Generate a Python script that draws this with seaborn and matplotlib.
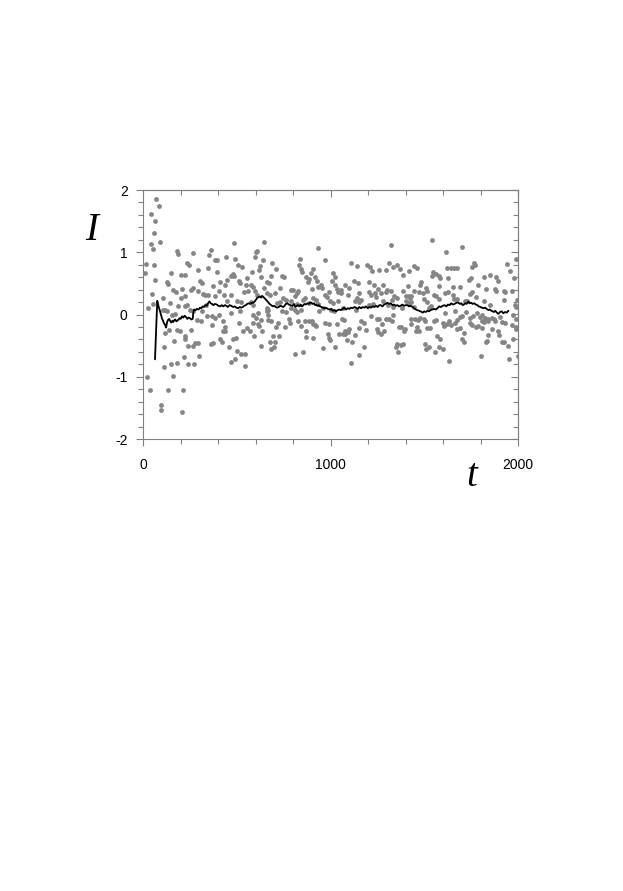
import matplotlib
matplotlib.use("Agg")
import matplotlib.pyplot as plt
import seaborn as sns

# scattered samples I(t)
t_pts = [69, 87, 41, 62, 60, 43, 91, 52, 14, 59, 9, 66, 48, 28, 55, 105, 180, 188, 268, 236,
         247, 361, 352, 382, 396, 148, 201, 226, 293, 348, 396, 130, 133, 162, 174, 208, 226, 254, 265, 292,
         304, 315, 318, 332, 347, 372, 404, 386, 108, 117, 144, 126, 153, 171, 201, 188, 224, 233, 251, 268,
         313, 286, 308, 336, 340, 366, 384, 366, 140, 117, 183, 197, 222, 226, 258, 167, 112, 242, 265, 277,
         293, 361, 372, 411, 299, 217, 148, 180, 238, 272, 114, 158, 20, 37, 133, 215, 98, 94, 210,
         484, 645, 443, 489, 596, 603, 606, 640, 688, 507, 528, 624, 620, 711, 581, 478, 471, 485, 556, 450,
         510, 517, 628, 684, 741, 750, 411, 436, 549, 578, 588, 645, 660, 670, 729, 788, 798, 471, 432, 539,
         560, 599, 606, 660, 677, 706, 747, 764, 788, 812, 820, 450, 500, 524, 574, 588, 660, 667, 713, 731,
         791, 812, 407, 471, 517, 585, 613, 603, 660, 667, 741, 763, 820, 425, 436, 514, 585, 613, 628, 617,
         667, 684, 720, 709, 780, 784, 756, 425, 439, 556, 571, 535, 635, 695, 724, 421, 482, 496, 592, 677,
         702, 457, 631, 681, 699, 503, 524, 542, 812, 489, 471, 542,
         933, 837, 969, 1108, 1140, 834, 844, 848, 1196, 1211, 908, 894, 1221, 1012, 1022, 1008, 869, 887, 916, 926,
         1125, 1147, 1207, 1232, 880, 948, 933, 955, 1079, 1097, 1026, 1033, 901, 1054, 1040, 1058, 994, 827, 969, 980,
         1093, 1154, 1143, 1207, 1218, 1236, 862, 852, 908, 923, 997, 1012, 1040, 1129, 1154, 1164, 823, 887, 933, 958,
         1065, 1204, 1225, 844, 940, 1004, 1019, 1136, 827, 841, 862, 887, 901, 908, 972, 990, 1033, 1061, 1072, 1164,
         1179, 1218, 869, 916, 923, 1079, 1093, 1100, 1150, 1189, 869, 905, 987, 994, 997, 1044, 1065, 1079, 1129, 1086,
         1115, 1026, 962, 1179, 852, 1150, 1111,
         1541, 1324, 1616, 1314, 1353, 1335, 1445, 1463, 1257, 1296, 1371, 1417, 1620, 1644, 1545, 1563, 1385, 1541, 1577, 1584,
         1627, 1481, 1477, 1282, 1253, 1413, 1509, 1516, 1580, 1303, 1321, 1296, 1385, 1445, 1474, 1492, 1627, 1268, 1243, 1339,
         1353, 1328, 1403, 1417, 1431, 1424, 1552, 1563, 1612, 1652, 1282, 1403, 1417, 1431, 1499, 1516, 1580, 1307, 1332, 1381,
         1445, 1527, 1538, 1609, 1335, 1246, 1257, 1296, 1310, 1328, 1275, 1431, 1452, 1467, 1477, 1499, 1506, 1552, 1563, 1634,
         1364, 1378, 1399, 1392, 1431, 1463, 1456, 1474, 1516, 1531, 1598, 1605, 1620, 1644, 1250, 1253, 1271, 1285, 1566, 1584,
         1356, 1374, 1349, 1388, 1360, 1502, 1509, 1527, 1580, 1602, 1556, 1634,
         1700, 1764, 1771, 1757, 1942, 1988, 1657, 1675, 1956, 1739, 1750, 1821, 1853, 1885, 1892, 1785, 1977, 1689, 1654, 1831,
         1878, 1885, 1931, 1924, 1746, 1757, 1967, 1675, 1661, 1778, 1718, 1728, 1821, 1853, 1927, 1988, 1995, 1984, 1664, 1689,
         1700, 1721, 1782, 1810, 1796, 1746, 1760, 1824, 1842, 1860, 1871, 1906, 1974, 1988, 1675, 1664, 1743, 1757, 1775, 1785,
         1810, 1821, 1839, 1878, 1917, 1931, 1967, 1988, 1991, 1689, 1675, 1863, 1807, 1895, 1899, 1711, 1703, 1714, 1839, 1835,
         1831, 1913, 1927, 1945, 1974, 1803, 1952, 1999]
i_pts = [1.85, 1.74, 1.62, 1.51, 1.31, 1.14, 1.16, 1.05, 0.81, 0.79, 0.66, 0.55, 0.33, 0.10, 0.17, 0.27, 1.02, 0.97, 0.99, 0.82,
         0.79, 1.03, 0.95, 0.88, 0.88, 0.67, 0.63, 0.64, 0.72, 0.75, 0.68, 0.52, 0.49, 0.39, 0.36, 0.41, 0.29, 0.39, 0.42, 0.37,
         0.54, 0.50, 0.33, 0.31, 0.32, 0.45, 0.37, 0.29, 0.07, 0.07, 0.18, 0.05, 0.0, 0.01, 0.26, 0.13, 0.13, 0.16, 0.07, 0.05,
         0.05, -0.09, -0.11, 0.15, -0.03, -0.03, -0.05, -0.17, -0.25, -0.30, -0.25, -0.27, -0.35, -0.39, -0.25, -0.42, -0.52, -0.51, -0.50, -0.46,
         -0.46, -0.47, -0.46, -0.39, -0.66, -0.69, -0.80, -0.78, -0.80, -0.80, -0.84, -0.99, -1.01, -1.21, -1.21, -1.21, -1.45, -1.53, -1.57,
         1.15, 1.16, 0.93, 0.89, 0.93, 1.00, 1.02, 0.87, 0.82, 0.79, 0.77, 0.78, 0.72, 0.73, 0.69, 0.65, 0.62, 0.62, 0.58, 0.56,
         0.54, 0.50, 0.61, 0.62, 0.62, 0.60, 0.52, 0.48, 0.47, 0.48, 0.44, 0.43, 0.52, 0.50, 0.43, 0.39, 0.39, 0.32, 0.32, 0.36,
         0.37, 0.37, 0.32, 0.34, 0.32, 0.34, 0.26, 0.23, 0.21, 0.30, 0.34, 0.22, 0.22, 0.20, 0.20, 0.16, 0.11, 0.07, 0.18, 0.20,
         0.10, 0.07, -0.01, 0.02, 0.06, -0.01, 0.02, -0.05, 0.05, -0.01, 0.05, 0.04, 0.04, -0.11, -0.20, -0.14, -0.14, -0.16, -0.09, -0.19,
         -0.09, -0.11, -0.13, -0.20, -0.07, -0.13, -0.20, -0.27, -0.26, -0.22, -0.27, -0.27, -0.26, -0.34, -0.34, -0.44, -0.39, -0.37, -0.35, -0.44,
         -0.44, -0.52, -0.51, -0.56, -0.53, -0.58, -0.64, -0.64, -0.63, -0.71, -0.77, -0.83,
         1.07, 0.89, 0.88, 0.82, 0.78, 0.80, 0.73, 0.68, 0.79, 0.77, 0.73, 0.66, 0.70, 0.66, 0.60, 0.54, 0.60, 0.57, 0.61, 0.54,
         0.54, 0.50, 0.52, 0.48, 0.52, 0.48, 0.44, 0.43, 0.47, 0.42, 0.47, 0.41, 0.41, 0.40, 0.36, 0.34, 0.36, 0.37, 0.32, 0.28,
         0.32, 0.34, 0.27, 0.36, 0.32, 0.34, 0.27, 0.24, 0.26, 0.23, 0.22, 0.19, 0.21, 0.22, 0.20, 0.23, 0.17, 0.18, 0.17, 0.11,
         0.11, 0.15, 0.17, 0.08, 0.05, 0.08, 0.06, 0.07, -0.10, -0.18, -0.11, -0.10, -0.10, -0.16, -0.13, -0.15, -0.16, -0.08, -0.09, -0.10,
         -0.14, -0.03, -0.26, -0.17, -0.19, -0.26, -0.28, -0.24, -0.22, -0.25, -0.36, -0.38, -0.31, -0.37, -0.41, -0.31, -0.31, -0.31, -0.33, -0.41,
         -0.44, -0.52, -0.54, -0.53, -0.60, -0.65, -0.78,
         1.19, 1.11, 1.00, 0.82, 0.80, 0.76, 0.78, 0.74, 0.71, 0.71, 0.73, 0.70, 0.74, 0.74, 0.68, 0.65, 0.64, 0.62, 0.62, 0.58,
         0.58, 0.52, 0.48, 0.47, 0.41, 0.45, 0.42, 0.38, 0.45, 0.39, 0.38, 0.36, 0.37, 0.37, 0.36, 0.34, 0.36, 0.34, 0.28, 0.29,
         0.26, 0.24, 0.30, 0.29, 0.30, 0.26, 0.32, 0.29, 0.34, 0.32, 0.22, 0.22, 0.19, 0.20, 0.25, 0.20, 0.25, 0.15, 0.12, 0.11,
         0.12, 0.11, 0.14, 0.03, -0.01, -0.07, -0.08, -0.08, -0.08, -0.11, -0.15, -0.08, -0.07, -0.09, -0.06, -0.08, -0.11, -0.10, -0.09, -0.10,
         -0.20, -0.20, -0.23, -0.27, -0.16, -0.20, -0.27, -0.27, -0.22, -0.21, -0.14, -0.18, -0.16, -0.17, -0.24, -0.28, -0.32, -0.26, -0.35, -0.40,
         -0.47, -0.49, -0.52, -0.48, -0.61, -0.48, -0.55, -0.52, -0.53, -0.56, -0.61, -0.75,
         1.09, 0.83, 0.80, 0.77, 0.81, 0.89, 0.74, 0.75, 0.70, 0.56, 0.58, 0.60, 0.63, 0.61, 0.54, 0.47, 0.59, 0.44, 0.44, 0.41,
         0.41, 0.37, 0.36, 0.38, 0.33, 0.36, 0.37, 0.25, 0.25, 0.28, 0.21, 0.22, 0.21, 0.15, 0.23, 0.12, 0.23, 0.15, 0.05, -0.04,
         -0.03, 0.04, 0.02, -0.01, -0.04, -0.05, -0.03, -0.06, -0.08, -0.05, -0.08, -0.04, -0.01, -0.07, -0.09, -0.14, -0.14, -0.17, -0.20, -0.18,
         -0.10, -0.12, -0.11, -0.11, -0.12, -0.13, -0.17, -0.20, -0.24, -0.21, -0.23, -0.24, -0.22, -0.27, -0.33, -0.30, -0.39, -0.44, -0.33, -0.42,
         -0.44, -0.44, -0.44, -0.50, -0.40, -0.66, -0.72, -0.67]

# running mean (black curve)
t_avg = [64, 76, 84, 91, 101, 112, 118, 123, 128, 133, 140, 146, 151, 157, 162, 167, 172, 178, 183, 190,
         195, 201, 208, 215, 222, 229, 236, 243, 250, 258, 265, 268, 272, 280, 288, 296, 304, 311, 318, 325,
         332, 340, 347, 354, 361, 368, 375, 384, 393, 402, 411, 420, 428, 436, 445, 452, 462, 471, 480, 490,
         498, 507, 516, 524, 532, 540, 548, 556, 564, 572, 580, 588, 596, 603, 610, 617, 624, 630, 635, 642,
         649, 658, 667, 675, 684, 693, 700, 708, 716, 724, 732, 741, 748, 755, 762, 770, 778, 786, 798, 805,
         812, 820, 827, 835, 841, 848, 855, 862, 869, 876, 884, 891, 898, 905, 912, 918, 923, 930, 937, 944,
         951, 958, 967, 976, 985, 994, 1003, 1012, 1021, 1029, 1038, 1047, 1056, 1065, 1074, 1083, 1092, 1100, 1109, 1118,
         1127, 1136, 1145, 1154, 1163, 1172, 1181, 1190, 1199, 1207, 1216, 1225, 1234, 1243, 1252, 1260, 1268, 1277, 1286, 1294,
         1303, 1312, 1321, 1330, 1339, 1348, 1357, 1366, 1374, 1383, 1392, 1401, 1410, 1419, 1428, 1438, 1447, 1455, 1463, 1472,
         1481, 1492, 1500, 1508, 1516, 1525, 1534, 1543, 1552, 1561, 1570, 1580, 1589, 1598, 1609, 1618, 1626, 1635, 1644, 1653,
         1662, 1672, 1682, 1690, 1698, 1705, 1711, 1718, 1726, 1735, 1742, 1750, 1758, 1766, 1775, 1783, 1791, 1799, 1807, 1816,
         1825, 1833, 1842, 1850, 1858, 1866, 1871, 1879, 1887, 1895, 1904, 1913, 1922, 1931, 1940, 1949]
i_avg = [-0.72, 0.22, 0.12, 0.05, -0.06, -0.14, -0.17, -0.21, -0.13, -0.09, -0.07, -0.11, -0.13, -0.10, -0.12, -0.09, -0.08, -0.11, -0.10, -0.08,
         -0.06, -0.07, -0.03, -0.05, -0.02, -0.04, -0.07, -0.05, -0.06, -0.08, -0.07, 0.02, 0.08, 0.07, 0.09, 0.08, 0.11, 0.10, 0.13, 0.12,
         0.15, 0.14, 0.18, 0.21, 0.18, 0.17, 0.15, 0.17, 0.16, 0.14, 0.13, 0.15, 0.13, 0.15, 0.14, 0.12, 0.15, 0.14, 0.12, 0.13,
         0.11, 0.10, 0.12, 0.11, 0.12, 0.14, 0.15, 0.17, 0.18, 0.17, 0.19, 0.19, 0.21, 0.24, 0.27, 0.28, 0.29, 0.27, 0.30, 0.28,
         0.26, 0.23, 0.20, 0.17, 0.15, 0.13, 0.14, 0.12, 0.11, 0.12, 0.14, 0.13, 0.12, 0.14, 0.17, 0.18, 0.16, 0.15, 0.14, 0.17,
         0.12, 0.14, 0.15, 0.13, 0.16, 0.13, 0.15, 0.17, 0.16, 0.18, 0.17, 0.19, 0.19, 0.17, 0.18, 0.15, 0.16, 0.14, 0.15, 0.13,
         0.12, 0.11, 0.10, 0.11, 0.09, 0.08, 0.09, 0.06, 0.07, 0.05, 0.07, 0.08, 0.07, 0.09, 0.11, 0.08, 0.10, 0.09, 0.11, 0.10,
         0.12, 0.11, 0.09, 0.12, 0.10, 0.12, 0.11, 0.13, 0.10, 0.12, 0.11, 0.13, 0.12, 0.14, 0.12, 0.15, 0.15, 0.13, 0.16, 0.17,
         0.19, 0.17, 0.18, 0.15, 0.16, 0.14, 0.15, 0.13, 0.14, 0.16, 0.14, 0.15, 0.15, 0.13, 0.14, 0.12, 0.10, 0.08, 0.07, 0.06,
         0.05, 0.03, 0.05, 0.04, 0.06, 0.05, 0.07, 0.08, 0.09, 0.08, 0.10, 0.13, 0.12, 0.14, 0.15, 0.13, 0.16, 0.15, 0.18, 0.16,
         0.17, 0.19, 0.19, 0.17, 0.18, 0.15, 0.16, 0.18, 0.17, 0.21, 0.18, 0.19, 0.17, 0.18, 0.16, 0.15, 0.13, 0.12, 0.11, 0.10,
         0.11, 0.09, 0.07, 0.08, 0.06, 0.05, 0.04, 0.06, 0.03, 0.01, 0.04, 0.05, 0.02, 0.04, 0.03, 0.06]

x_ticks = [0, 1000, 2000]
y_ticks = [-2, -1, 0, 1, 2]

sns.set_style("ticks")
plt.rcParams['font.family'] = ['Liberation Sans', 'DejaVu Sans']

frame = '#808080'
fig = plt.figure(figsize=(6.23, 8.91), dpi=100)
ax = fig.add_axes([143 / 623, 1 - 439 / 891, 375 / 623, 249 / 891])

sns.scatterplot(x=t_pts, y=i_pts, ax=ax, color='#858585', s=12, linewidth=0)
sns.lineplot(x=t_avg, y=i_avg, ax=ax, color='black', linewidth=1.3, sort=False, estimator=None)

ax.set_xlim(0, 2000)
ax.set_ylim(-2, 2)
ax.set_xticks(x_ticks)
ax.set_xticks(list(range(0, 2001, 200)), minor=True)
ax.set_yticks(y_ticks)
ax.set_yticks([-2 + 0.2 * k for k in range(21)], minor=True)
ax.set_xticklabels([str(v) for v in x_ticks])
ax.set_yticklabels([str(v) for v in y_ticks])

for s in ax.spines.values():
    s.set_color(frame)
    s.set_linewidth(0.8)
ax.tick_params(which='both', direction='out', color=frame, width=0.8, labelsize=10, labelcolor='black')
ax.tick_params(which='major', length=5)
ax.tick_params(which='minor', length=3.3)
ax.tick_params(axis='x', pad=9)
ax.tick_params(axis='y', pad=6)

# top and right ticks point inward
top = ax.secondary_xaxis('top')
top.set_xticks(x_ticks)
top.set_xticks(list(range(0, 2001, 200)), minor=True)
top.tick_params(which='both', direction='in', color=frame, width=0.8, labeltop=False)
top.tick_params(which='major', length=5)
top.tick_params(which='minor', length=3.3)
top.spines['top'].set_color(frame)
top.spines['top'].set_linewidth(0.8)

right = ax.secondary_yaxis('right')
right.set_yticks(y_ticks)
right.set_yticks([-2 + 0.2 * k for k in range(21)], minor=True)
right.tick_params(which='both', direction='in', color=frame, width=0.8, labelright=False)
right.tick_params(which='major', length=5)
right.tick_params(which='minor', length=3.3)
right.spines['right'].set_color(frame)
right.spines['right'].set_linewidth(0.8)

ax.set_xlabel('')
ax.set_ylabel('')
fig.text(92 / 623, 1 - 231 / 891, 'I', fontsize=28, family='Liberation Serif', style='italic',
         color='black', ha='center', va='center')
fig.text(472 / 623, 1 - 476 / 891, 't', fontsize=28, family='Liberation Serif', style='italic',
         color='black', ha='center', va='center')

fig.savefig('out.png', dpi=100)
